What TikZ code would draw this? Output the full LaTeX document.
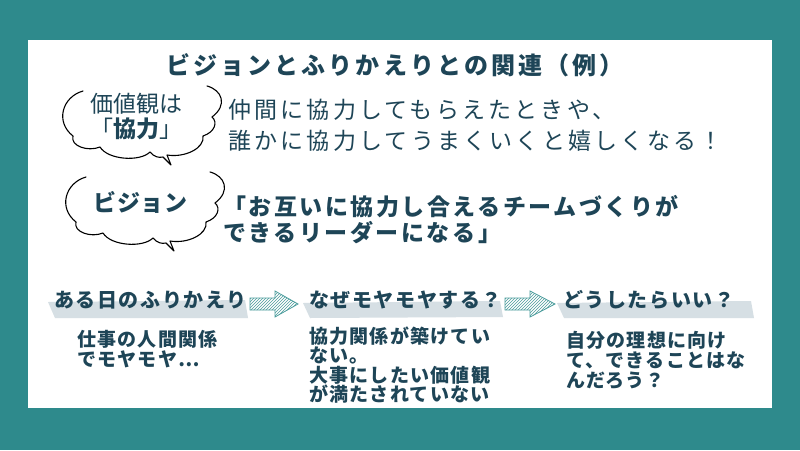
\documentclass[tikz,border=0pt]{standalone}
\usepackage{fontspec}
\usetikzlibrary{patterns}
\newfontfamily\jp{Noto Sans CJK JP}
\definecolor{bgteal}{HTML}{2E8A8C}
\definecolor{ink}{HTML}{1E4557}
\definecolor{barc}{HTML}{D6DFE4}
\definecolor{arrowc}{HTML}{4A9C9C}
\newcommand\ftitle{\jp\bfseries\fontsize{24}{28}\selectfont\addfontfeature{LetterSpace=13}}
\newcommand\fcloud{\jp\fontsize{23}{27}\selectfont}
\newcommand\fdesc{\jp\fontsize{23}{27}\selectfont\addfontfeature{LetterSpace=14}}
\newcommand\fvision{\jp\bfseries\fontsize{23}{27}\selectfont\addfontfeature{LetterSpace=11}}
\newcommand\fhead{\jp\bfseries\fontsize{20}{24}\selectfont\addfontfeature{LetterSpace=8}}
\newcommand\fbody{\jp\bfseries\fontsize{19}{22}\selectfont\addfontfeature{LetterSpace=6.5}}
\begin{document}
\begin{tikzpicture}[x=1pt,y=-1pt,
  lbl/.style={text=ink, inner sep=0pt},
  cloudline/.style={draw=black, line width=1.1pt, line cap=round, line join=round},
  bar/.style={fill=barc},
  blockarrow/.style={draw=arrowc, line width=0.8pt, pattern=north east lines, pattern color=arrowc},
  thought/.pic={
    \draw[cloudline] (83,91) .. controls (62,97) and (55,122) .. (73,136)
      .. controls (70,146) and (88,152) .. (100,147)
      .. controls (108,160) and (140,162) .. (150,152)
      .. controls (154,157) and (159,158) .. (163,157)
      -- (171,165) -- (167,155)
      .. controls (185,158) and (205,148) .. (203,136)
      .. controls (215,132) and (218,122) .. (212,117)
      .. controls (228,105) and (222,90) .. (207,86);
  }]
\fill[bgteal] (0,0) rectangle (800,450);
\useasboundingbox (0,0) rectangle (800,450);
\fill[white] (28,40) rectangle (772,408);

% title
\node[lbl, anchor=base, font=\ftitle] (title) at (395,74.1) {ビジョンとふりかえりとの関連（例）};

% clouds
\pic at (0,0) {thought};
\pic at (3,86) {thought};
\node[lbl, anchor=base, font=\fcloud] (c1a) at (136,112.7) {価値観は};
\node[lbl, anchor=base, font=\fcloud] (c1b) at (136,137.7) {「\textbf{協力}」};
\node[lbl, anchor=base, font=\fcloud\bfseries\addfontfeature{LetterSpace=4}] (c2) at (140.5,211.7) {ビジョン};

% descriptions
\node[lbl, anchor=base west, font=\fdesc] (d1) at (228,118.7) {仲間に協力してもらえたときや、};
\node[lbl, anchor=base west, font=\fdesc] (d2) at (228,149.7) {誰かに協力してうまくいくと嬉しくなる！};
\node[lbl, anchor=base west, font=\fvision] (v1) at (223,215.7) {「お互いに協力し合えるチームづくりが};
\node[lbl, anchor=base west, font=\fvision] (v2) at (223,241.7) {できるリーダーになる」};

% bottom bars
\fill[bar] (48,302) -- (245,300) -- (248,318) -- (55,318) -- cycle;
\fill[bar] (303,303) -- (500,301) -- (503,317) -- (310,318) -- cycle;
\fill[bar] (557,303) -- (751,301) -- (754,318) -- (564,318) -- cycle;

% block arrows
\draw[blockarrow] (250,298) -- (275,298) -- (275,291) -- (298,304) -- (275,317) -- (275,310) -- (250,310) -- cycle;
\draw[blockarrow] (505,298) -- (530,298) -- (530,291) -- (555,304) -- (530,317) -- (530,310) -- (505,310) -- cycle;

% headings
\node[lbl, anchor=base west, font=\fhead] (h1) at (54,307.6) {ある日のふりかえり};
\node[lbl, anchor=base west, font=\fhead] (h2) at (309,307.6) {なぜモヤモヤする？};
\node[lbl, anchor=base west, font=\fhead] (h3) at (563,307.6) {どうしたらいい？};

% bodies
\node[lbl, anchor=base west, font=\fbody] (a1) at (77,346.2) {仕事の人間関係};
\node[lbl, anchor=base west, font=\fbody] (a2) at (77,366.2) {でモヤモヤ…};
\node[lbl, anchor=base west, font=\fbody] (b1) at (309,343) {協力関係が築けてい};
\node[lbl, anchor=base west, font=\fbody] (b2) at (309,362.5) {ない。};
\node[lbl, anchor=base west, font=\fbody] (b3) at (309,382) {大事にしたい価値観};
\node[lbl, anchor=base west, font=\fbody] (b4) at (309,401.5) {が満たされていない};
\node[lbl, anchor=base west, font=\fbody] (e1) at (566,347.2) {自分の理想に向け};
\node[lbl, anchor=base west, font=\fbody] (e2) at (566,367.2) {て、できることはな};
\node[lbl, anchor=base west, font=\fbody] (e3) at (566,387.2) {んだろう？};
\end{tikzpicture}
\end{document}
